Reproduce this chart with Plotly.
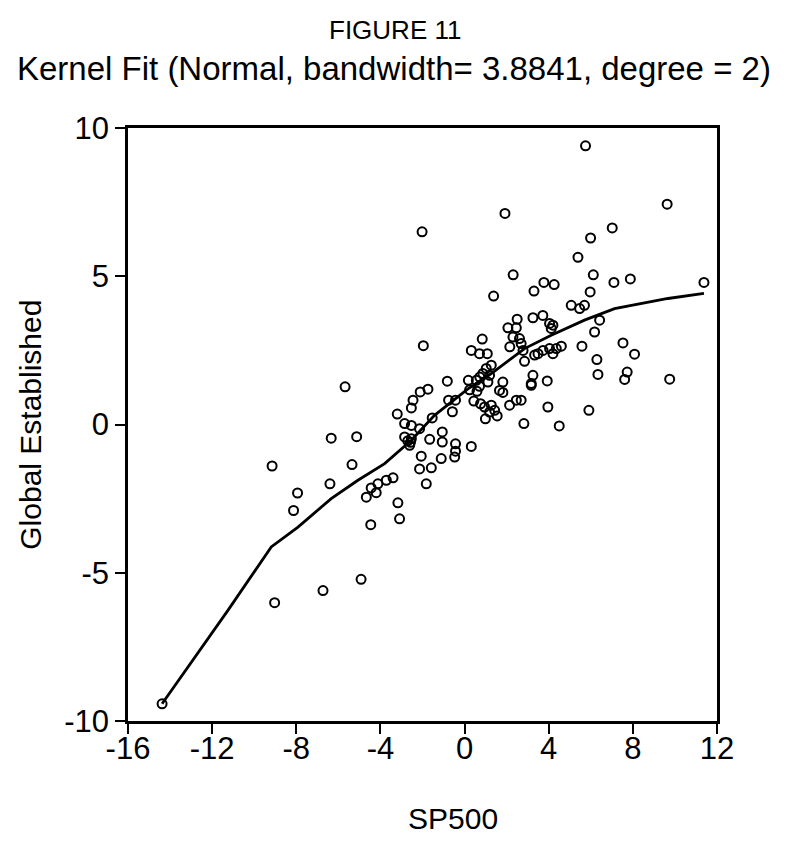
import plotly.graph_objects as go

# Scatter data: SP500 (x) vs Global Established (y)
sp500 = [
    -14.38, -9.15, -9.03, -6.73, -4.92, -7.94, -8.13, -6.34, -5.13, -5.35,
    -6.40, -5.68, -4.46, -4.67, -4.44, -4.20, -4.12, -3.72, -3.40, -3.17,
    -3.09, -3.20, -2.02, -1.96, -2.85, -2.53, -2.14, -2.85, -2.53, -2.61,
    -2.45, -2.53, -2.11, -1.74, -1.54, -1.66, -1.06, -1.06, -0.43, -0.43,
    -0.47, 0.32, -2.06, -1.11, -2.14, -1.58, -1.82, -0.82, -0.76, -0.43,
    -0.58, 0.18, 0.24, 0.59, 0.56, 0.71, 0.87, 1.03, 1.27, 1.19,
    1.11, 1.82, 1.66, 1.82, 0.44, 0.76, 0.95, 1.27, 1.43, 1.19,
    0.99, 1.55, 2.14, 2.46, 2.69, 3.96, 2.82, 4.50, 5.91, 0.84,
    0.32, 0.71, 1.08, 2.50, 3.25, 3.72, 4.04, 4.12, 2.06, 2.46,
    2.30, 2.61, 2.15, 2.69, 2.78, 2.85, 3.33, 3.49, 3.73, 4.04,
    4.20, 4.36, 4.60, 3.25, 3.17, 3.93, 4.20, 5.58, 6.18, 6.42,
    5.07, 5.47, 5.70, 7.53, 8.08, 6.29, 6.34, 7.73, 7.61, 9.75,
    5.75, 9.63, 1.92, 7.02, 5.99, 5.39, 2.31, 6.12, 7.10, 7.88,
    11.38, 3.77, 4.26, 3.30, 5.97, 1.38, 0.72, -2.57, -2.70, 3.17,
]
global_established = [
    -9.42, -1.40, -6.01, -5.60, -5.22, -2.31, -2.90, -0.46, -0.41, -1.35,
    -2.00, 1.27, -3.38, -2.45, -2.14, -2.30, -2.00, -1.88, -1.80, -2.64,
    -3.18, 0.35, 6.50, 2.66, 0.03, -0.03, -0.14, -0.42, -0.48, -0.70,
    0.82, 0.56, 1.10, 1.19, 0.22, -0.50, -0.25, -0.59, -0.65, -0.90,
    -1.10, -0.74, -1.07, -1.15, -1.50, -1.46, -2.00, 1.46, 0.82, 0.82,
    0.43, 1.49, 1.17, 1.12, 1.49, 1.29, 1.72, 1.89, 2.00, 1.66,
    1.43, 1.43, 1.15, 1.08, 0.79, 0.70, 0.59, 0.65, 0.48, 0.42,
    0.19, 0.29, 0.65, 0.82, 0.82, 0.59, 0.03, -0.05, 0.48, 2.88,
    2.50, 2.39, 2.39, 3.55, 3.60, 3.68, 3.41, 3.24, 3.26, 3.26,
    2.95, 2.90, 2.62, 2.73, 2.50, 2.13, 2.34, 2.39, 2.50, 2.56,
    2.39, 2.56, 2.64, 1.66, 1.38, 1.47, 3.35, 2.64, 3.12, 3.52,
    4.02, 3.91, 4.02, 2.75, 2.37, 2.19, 1.69, 1.77, 1.52, 1.53,
    9.40, 7.43, 7.12, 6.63, 6.29, 5.64, 5.05, 5.05, 4.79, 4.91,
    4.79, 4.79, 4.72, 4.50, 4.47, 4.33, 1.60, -0.60, -0.55, 1.32,
]

# Kernel fit curve
fit_x = [-14.38, -12.51, -11.25, -9.19, -7.92, -6.34, -5.07, -3.80, -2.53,
         -1.43, 0.16, 1.27, 2.85, 4.12, 5.70, 7.13, 8.40, 9.67, 11.38]
fit_y = [-9.42, -7.56, -6.27, -4.13, -3.46, -2.50, -1.88, -1.32, -0.53,
         0.31, 1.20, 1.72, 2.56, 3.01, 3.52, 3.91, 4.08, 4.25, 4.42]

x_ticks = [-16, -12, -8, -4, 0, 4, 8, 12]
y_ticks = [-10, -5, 0, 5, 10]

FONT = "Liberation Sans, Arial, sans-serif"

fig = go.Figure()
fig.add_trace(go.Scatter(
    x=sp500, y=global_established, mode="markers",
    marker=dict(symbol="circle-open", size=9, color="black",
                line=dict(width=2, color="black")),
    showlegend=False, cliponaxis=False,
))
fig.add_trace(go.Scatter(
    x=fit_x, y=fit_y, mode="lines",
    line=dict(color="black", width=2.8),
    showlegend=False,
))

axis_common = dict(
    showgrid=False, zeroline=False, showline=True, linecolor="black",
    linewidth=2.5, mirror=True, ticks="outside", ticklen=10, tickwidth=2,
    tickcolor="black", tickfont=dict(family=FONT, size=31, color="black"),
)

fig.update_layout(
    width=774, height=841,
    margin=dict(l=120, r=65, t=120, b=128),
    paper_bgcolor="white", plot_bgcolor="white",
    font=dict(family=FONT, color="black"),
    xaxis=dict(range=[-16, 12], tickvals=x_ticks,
               ticktext=[str(v) for v in x_ticks], ticklabelstandoff=-12,
               **axis_common),
    yaxis=dict(range=[-10, 10], tickvals=y_ticks,
               ticktext=[str(v) for v in y_ticks], ticklabelstandoff=0,
               **axis_common),
    annotations=[
        dict(text="FIGURE 11", xref="paper", yref="paper", x=0.453, y=1.165,
             xanchor="center", yanchor="middle", showarrow=False,
             font=dict(family=FONT, size=26, color="black")),
        dict(text="Kernel Fit (Normal, bandwidth= 3.8841, degree = 2)",
             xref="paper", yref="paper", x=0.452, y=1.101,
             xanchor="center", yanchor="middle", showarrow=False,
             font=dict(family=FONT, size=33, color="black")),
        dict(text="Global Established", xref="paper", yref="paper",
             x=-0.166, y=0.5, xanchor="center", yanchor="middle",
             textangle=-90, showarrow=False,
             font=dict(family=FONT, size=30, color="black")),
        dict(text="SP500", xref="paper", yref="paper",
             x=0.552, y=-0.164, xanchor="center", yanchor="middle",
             showarrow=False, font=dict(family=FONT, size=30, color="black")),
    ],
)

fig.write_html("out.html")
